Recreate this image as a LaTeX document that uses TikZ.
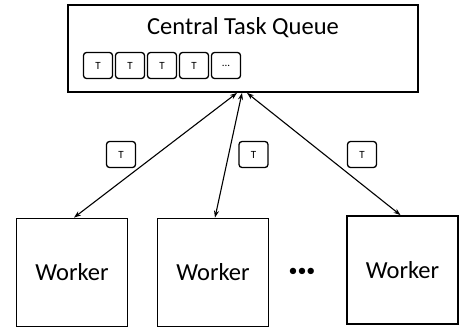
\documentclass[tikz,border=0pt]{standalone}
\usepackage{fontspec}
\setmainfont{Carlito}
\usetikzlibrary{arrows.meta}

\tikzset{
  bigbox/.style={draw, line width=1.8pt, inner sep=0pt},
  workerbox/.style={draw, line width=1.8pt, inner sep=0pt, minimum width=111pt, minimum height=108pt, font=\fontsize{24.5}{29}\selectfont},
  taskbox/.style={draw, line width=1.3pt, rounded corners=3pt, inner sep=0pt, minimum width=29pt, minimum height=26pt, font=\fontsize{11}{13}\selectfont},
  link/.style={line width=1.1pt, {Stealth[length=7pt,width=5pt]}-{Stealth[length=7pt,width=5pt]}}
}

\begin{document}
\begin{tikzpicture}[x=1pt,y=-1pt]
\useasboundingbox (0,0) rectangle (459,329);
% the queue
\node[bigbox, minimum width=350pt, minimum height=87pt] (queue) at (243,48.5) {};
\node[font=\fontsize{24.5}{29}\selectfont] (title) at (243,28) {Central Task Queue};
\node[taskbox] (q1) at (98,65.5) {T};
\node[taskbox] (q2) at (130,65.5) {T};
\node[taskbox] (q3) at (162,65.5) {T};
\node[taskbox] (q4) at (194,65.5) {T};
\node[taskbox] (q5) at (226,65.5) {...};
% workers
\node[workerbox] (w1) at (72,272.5) {Worker};
\node[workerbox] (w2) at (213,272.5) {Worker};
\node[workerbox] (w3) at (402.5,270) {Worker};
\node[font=\fontsize{18}{22}\selectfont] (dots) at (302,272) {\textbullet\textbullet\textbullet};
% tasks on the way
\node[taskbox] (t1) at (121,154.5) {T};
\node[taskbox] (t2) at (253.5,154.5) {T};
\node[taskbox] (t3) at (362,154.5) {T};
\coordinate (a1) at ([xshift=-6pt]queue.south);
\coordinate (a2) at ([xshift=-1pt]queue.south);
\coordinate (a3) at ([xshift=4pt]queue.south);
\draw[link] (a1) -- ([xshift=2pt]w1.north);
\draw[link] (a2) -- ([xshift=2pt]w2.north);
\draw[link] (a3) -- ([xshift=-2pt]w3.north);
\end{tikzpicture}
\end{document}
